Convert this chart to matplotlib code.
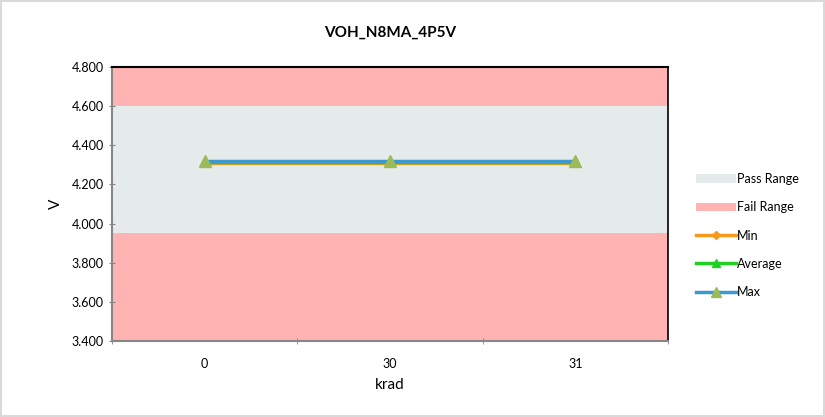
import matplotlib
matplotlib.use('Agg')
import matplotlib.pyplot as plt
from matplotlib.patches import Patch
from matplotlib.lines import Line2D

plt.rcParams['font.family'] = ['Lato', 'DejaVu Sans']

# data
categories = ['0', '30', '31']
min_vals = [4.312, 4.312, 4.312]
avg_vals = [4.315, 4.315, 4.315]
max_vals = [4.318, 4.318, 4.318]
pass_range = (3.95, 4.6)
fail_low = (3.4, 3.95)
fail_high = (4.6, 4.8)
y_ticks = [3.4, 3.6, 3.8, 4.0, 4.2, 4.4, 4.6, 4.8]

fig = plt.figure(figsize=(8.25, 4.17), dpi=100)
fig.patch.set_edgecolor('#d9d9d9')
fig.patch.set_linewidth(1.5)
ax = fig.add_axes([0.1358, 0.1823, 0.674, 0.657])

x = list(range(len(categories)))
ax.axhspan(*pass_range, color='#e5ebea', lw=0, zorder=0)
ax.axhspan(*fail_low, color='#ffb3b3', lw=0, zorder=0)
ax.axhspan(*fail_high, color='#ffb3b3', lw=0, zorder=0)

ax.plot(x, min_vals, color='#f79a1c', lw=2.5, marker='D', ms=4, zorder=3)
ax.plot(x, avg_vals, color='#22d022', lw=2.5, marker='^', ms=6, zorder=4)
ax.plot(x, max_vals, color='#3a9ad0', lw=2.5, marker='^', ms=9,
        markerfacecolor='#9bbb59', markeredgecolor='#9bbb59', zorder=5)

ax.set_xlim(-0.5, len(categories) - 0.5)
ax.set_ylim(3.4, 4.8)
ax.set_yticks(y_ticks)
ax.set_yticklabels(['%.3f' % v for v in y_ticks], fontsize=9)
ax.set_xticks(x)
ax.set_xticklabels(categories, fontsize=9)
ax.set_xticks([i - 0.5 for i in range(len(categories) + 1)], minor=True)
ax.tick_params(axis='x', which='major', length=0, pad=12)
ax.tick_params(axis='x', which='minor', length=5, color='#868686', direction='inout')
ax.tick_params(axis='y', length=5, color='#868686', direction='inout')

for s in ['left', 'bottom']:
    ax.spines[s].set_color('#868686')
    ax.spines[s].set_linewidth(1.5)
ax.spines['top'].set_color('black')
ax.spines['right'].set_color('black')
ax.spines['top'].set_linewidth(1.5)
ax.spines['right'].set_linewidth(1.2)

ax.set_xlabel('krad', fontsize=11, labelpad=6)
ax.set_ylabel('V', fontsize=11, labelpad=6)
ax.set_title('VOH_N8MA_4P5V', fontsize=11, fontweight='bold', pad=22)

handles = [
    Patch(facecolor='#e5ebea', label='Pass Range'),
    Patch(facecolor='#ffb3b3', label='Fail Range'),
    Line2D([], [], color='#f79a1c', lw=2.5, marker='D', ms=4, label='Min'),
    Line2D([], [], color='#22d022', lw=2.5, marker='^', ms=6, label='Average'),
    Line2D([], [], color='#3a9ad0', lw=2.5, marker='^', ms=7,
           markerfacecolor='#9bbb59', markeredgecolor='#9bbb59', label='Max'),
]
fig.legend(handles=handles, loc='center left', bbox_to_anchor=(0.83, 0.435),
           frameon=False, fontsize=9, handlelength=3.2, handletextpad=0.1,
           labelspacing=1.3, handleheight=0.7)

plt.savefig('out.png')
